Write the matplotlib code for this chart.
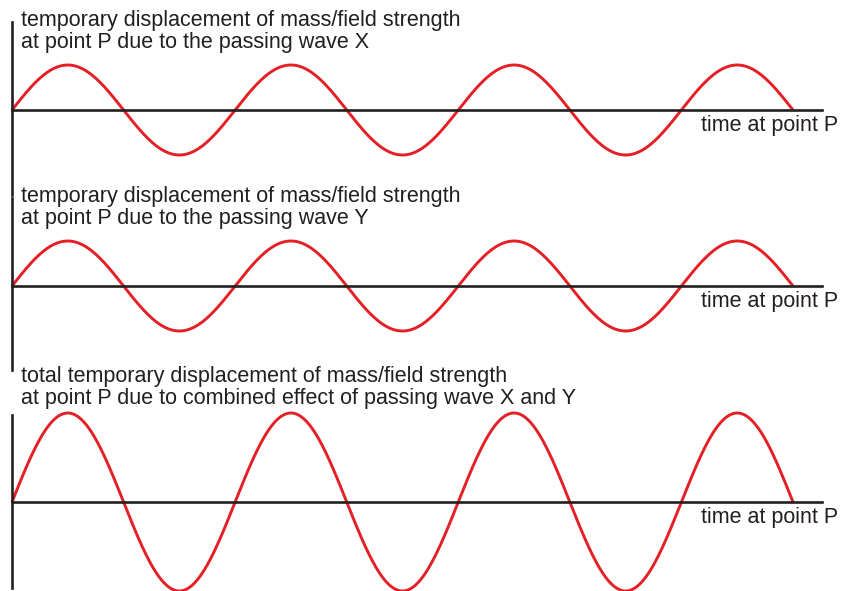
import numpy as np
import matplotlib.pyplot as plt

plt.rcParams['font.family'] = ['Liberation Sans', 'DejaVu Sans']

# wave description
cycles = 3.5                 # number of periods shown
amp_x = 1.0                  # wave X amplitude
amp_y = 1.0                  # wave Y amplitude (same phase, same period)
titles = [
    ["temporary displacement of mass/field strength",
     "at point P due to the passing wave X"],
    ["temporary displacement of mass/field strength",
     "at point P due to the passing wave Y"],
    ["total temporary displacement of mass/field strength",
     "at point P due to combined effect of passing wave X and Y"],
]
xlabel = "time at point P"

W, H = 850, 591
RED = "#e41f26"
INK = "#231f20"
FS = 15.5

t = np.linspace(0, cycles, 600)
wave_x = amp_x * np.sin(2 * np.pi * t)
wave_y = amp_y * np.sin(2 * np.pi * t)
series = [wave_x, wave_y, wave_x + wave_y]

fig = plt.figure(figsize=(W / 100, H / 100), dpi=100)

# panel layout in pixels: top, bottom, baseline, pixels per unit, text baselines
panels = [
    (22, 195, 110, 45.0, (26, 48), 131),
    (198, 370, 286, 45.0, (202, 224), 307),
    (415, 588, 502, 44.5, (382, 404), 523),
]
x0, x1 = 12, 822
period_px = (793 - 12) / cycles

for (top, bot, base, ppu, tb, lb), y, lines in zip(panels, series, titles):
    ax = fig.add_axes([x0 / W, 1 - bot / H, (x1 - x0) / W, (bot - top) / H])
    ax.set_xlim(0, (x1 - x0) / period_px)
    ax.set_ylim(-(bot - base) / ppu, (base - top) / ppu)
    ax.patch.set_alpha(0)
    for s in ["top", "right"]:
        ax.spines[s].set_visible(False)
    ax.spines["bottom"].set_position(("data", 0))
    for s in ["left", "bottom"]:
        ax.spines[s].set_linewidth(1.9)
        ax.spines[s].set_color(INK)
    ax.set_xticks([])
    ax.set_yticks([])
    ax.plot(t, y, color=RED, lw=2.1, solid_capstyle="butt", clip_on=False)

    for line, yb in zip(lines, tb):
        fig.text(21 / W, 1 - yb / H, line, fontsize=FS, color=INK,
                 ha="left", va="baseline")
    fig.text(838 / W, 1 - lb / H, xlabel, fontsize=FS, color=INK,
             ha="right", va="baseline")

fig.savefig("out.png", dpi=100)
